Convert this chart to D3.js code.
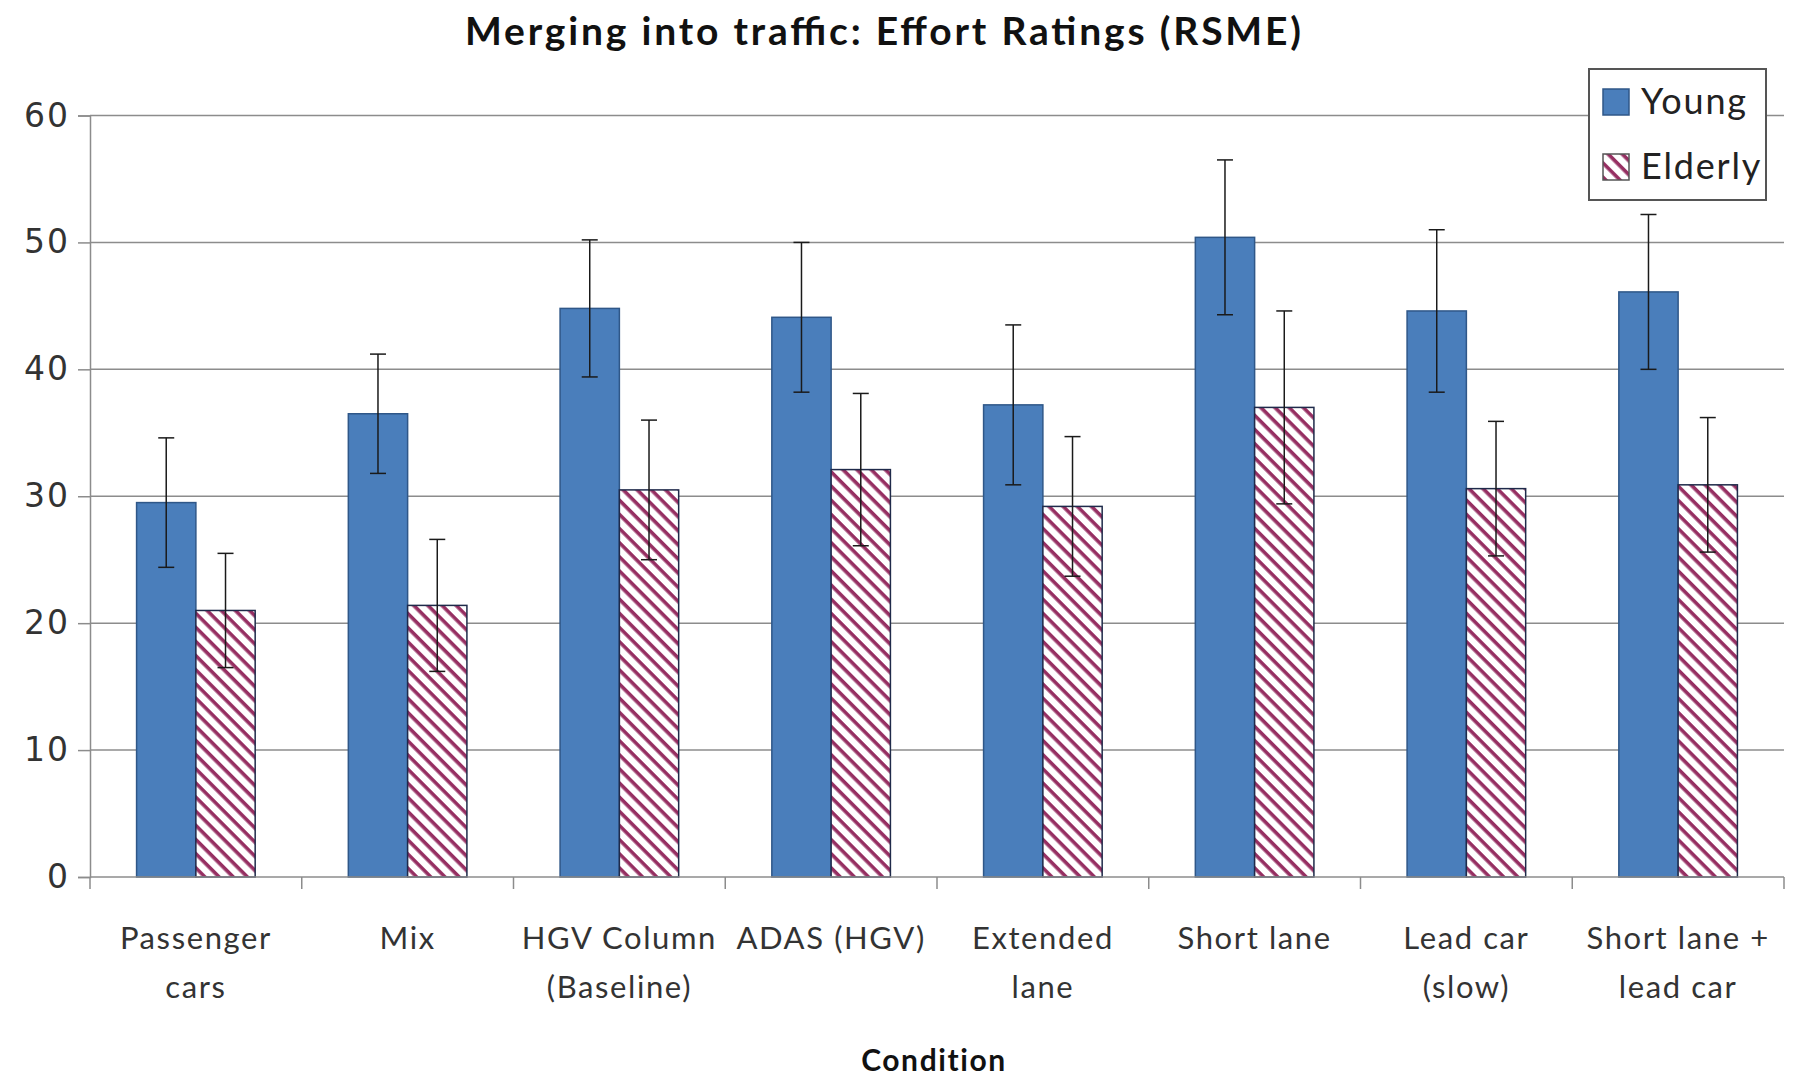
<!DOCTYPE html>
<html>
<head>
<meta charset="utf-8">
<script src="https://cdn.jsdelivr.net/npm/d3@7"></script>
<style>
  html, body { margin: 0; padding: 0; background: #fff; }
  svg { display: block; }
</style>
</head>
<body>
<svg id="chart" width="1793" height="1081"></svg>
<script>
// ---- Data ----
const categories = [
  ["Passenger", "cars"],
  ["Mix"],
  ["HGV Column", "(Baseline)"],
  ["ADAS (HGV)"],
  ["Extended", "lane"],
  ["Short lane"],
  ["Lead car", "(slow)"],
  ["Short lane +", "lead car"]
];
const seriesNames = ["Young", "Elderly"];
const youngMeans   = [29.5, 36.5, 44.8, 44.1, 37.2, 50.4, 44.6, 46.1];
const youngErrors  = [5.1, 4.7, 5.4, 5.9, 6.3, 6.1, 6.4, 6.1];
const elderlyMeans = [21.0, 21.4, 30.5, 32.1, 29.2, 37.0, 30.6, 30.9];
const elderlyErrors= [4.5, 5.2, 5.5, 6.0, 5.5, 7.6, 5.3, 5.3];
const yTicks = [0, 10, 20, 30, 40, 50, 60];
const titleText = "Merging into traffic: Effort Ratings (RSME)";
const xTitleText = "Condition";

// ---- Layout ----
const svg = d3.select("#chart");
const plotLeft = 90, plotRight = 1784, plotTop = 115.5, plotBottom = 877;
const catKeys = categories.map((c, i) => i);

const x0 = d3.scaleBand().domain(catKeys).range([plotLeft, plotRight]).paddingInner(0.44).paddingOuter(0.22);
const x1 = d3.scaleBand().domain(seriesNames).range([0, x0.bandwidth()]);
const y = d3.scaleLinear().domain([0, 60]).range([plotBottom, plotTop]);

const series = [
  { name: "Young", means: youngMeans, errs: youngErrors },
  { name: "Elderly", means: elderlyMeans, errs: elderlyErrors }
];

// pattern
const defs = svg.append("defs");
const pat = defs.append("pattern")
  .attr("id", "hatch").attr("patternUnits", "userSpaceOnUse")
  .attr("width", 10).attr("height", 10)
  .attr("patternTransform", "rotate(45)");
pat.append("rect").attr("width", 10).attr("height", 10).attr("fill", "#fff");
pat.append("rect").attr("x", 0).attr("y", 0).attr("width", 10).attr("height", 3.6).attr("fill", "#962f62");

// title
svg.append("text")
  .attr("x", 883).attr("y", 45)
  .attr("text-anchor", "middle")
  .attr("font-family", "Lato, 'Open Sans', sans-serif")
  .attr("font-weight", "bold")
  .attr("font-size", 39)
  .attr("textLength", 836)
  .attr("lengthAdjust", "spacing")
  .attr("fill", "#111")
  .text(titleText);

// gridlines
svg.append("g").selectAll("line")
  .data(yTicks.filter(d => d > 0))
  .join("line")
  .attr("x1", plotLeft).attr("x2", plotRight)
  .attr("y1", d => y(d)).attr("y2", d => y(d))
  .attr("stroke", "#8c8c8c").attr("stroke-width", 1.5);

// y axis
const yAxis = d3.axisLeft(y).tickValues(yTicks).tickSize(12).tickPadding(10);
const gy = svg.append("g").attr("transform", `translate(${plotLeft},0)`).call(yAxis);
gy.select(".domain").attr("stroke", "#8c8c8c").attr("stroke-width", 1.5);
gy.selectAll(".tick line").attr("stroke", "#8c8c8c").attr("stroke-width", 1.5);
gy.selectAll(".tick text")
  .attr("font-family", "'DejaVu Sans', Verdana, sans-serif")
  .attr("font-size", 33)
  .attr("letter-spacing", 2)
  .attr("dx", 2)
  .attr("fill", "#333");

// bars
const groups = svg.append("g").selectAll("g")
  .data(catKeys).join("g")
  .attr("transform", d => `translate(${x0(d)},0)`);

series.forEach(s => {
  groups.append("rect")
    .attr("x", x1(s.name))
    .attr("y", d => y(s.means[d]))
    .attr("width", x1.bandwidth())
    .attr("height", d => y(0) - y(s.means[d]))
    .attr("fill", s.name === "Young" ? "#4a7ebb" : "url(#hatch)")
    .attr("stroke", s.name === "Young" ? "#2f5788" : "#1f2a4a")
    .attr("stroke-width", 1.5);
});

// error bars
series.forEach(s => {
  const cx = d => x1(s.name) + x1.bandwidth() / 2;
  const eb = groups.append("g").attr("stroke", "#1a1a1a").attr("stroke-width", 1.5);
  eb.append("line")
    .attr("x1", cx).attr("x2", cx)
    .attr("y1", d => y(s.means[d] + s.errs[d]))
    .attr("y2", d => y(s.means[d] - s.errs[d]));
  [1, -1].forEach(sign => {
    eb.append("line")
      .attr("x1", d => cx(d) - 8).attr("x2", d => cx(d) + 8)
      .attr("y1", d => y(s.means[d] + sign * s.errs[d]))
      .attr("y2", d => y(s.means[d] + sign * s.errs[d]));
  });
});

// x axis
const step = x0.step();
const boundaries = d3.range(categories.length + 1).map(i => plotLeft + i * step);
svg.append("line")
  .attr("x1", plotLeft).attr("x2", plotRight).attr("y1", plotBottom).attr("y2", plotBottom)
  .attr("stroke", "#8c8c8c").attr("stroke-width", 1.5);
svg.append("g").selectAll("line").data(boundaries).join("line")
  .attr("x1", d => d).attr("x2", d => d)
  .attr("y1", plotBottom).attr("y2", plotBottom + 12)
  .attr("stroke", "#8c8c8c").attr("stroke-width", 1.5);

// category labels
const lbl = svg.append("g").selectAll("text").data(catKeys).join("text")
  .attr("text-anchor", "middle")
  .attr("font-family", "Lato, 'Open Sans', sans-serif")
  .attr("font-size", 31)
  .attr("letter-spacing", 1.6)
  .attr("fill", "#333")
  .attr("transform", d => `translate(${x0(d) + x0.bandwidth() / 2},0)`);
lbl.selectAll("tspan").data(d => categories[d]).join("tspan")
  .attr("x", 0)
  .attr("y", (d, i) => 949 + i * 49)
  .text(d => d);

// x title
svg.append("text")
  .attr("x", 934).attr("y", 1071)
  .attr("text-anchor", "middle")
  .attr("font-family", "Lato, 'Open Sans', sans-serif")
  .attr("font-weight", "bold")
  .attr("font-size", 30)
  .attr("letter-spacing", 1.6)
  .attr("fill", "#111")
  .text(xTitleText);

// legend
const lg = svg.append("g");
lg.append("rect")
  .attr("x", 1589).attr("y", 69).attr("width", 177).attr("height", 131)
  .attr("fill", "#fff").attr("stroke", "#555").attr("stroke-width", 2);
series.forEach((s, i) => {
  const yy = 89 + i * 65;
  lg.append("rect")
    .attr("x", 1603).attr("y", yy).attr("width", 26).attr("height", 26)
    .attr("fill", s.name === "Young" ? "#4a7ebb" : "url(#hatch)")
    .attr("stroke", s.name === "Young" ? "#2f5788" : "#555")
    .attr("stroke-width", 1.5);
  lg.append("text")
    .attr("x", 1641).attr("y", yy + 25)
    .attr("font-family", "Lato, 'Open Sans', sans-serif")
    .attr("font-size", 36)
    .attr("letter-spacing", 1.8)
    .attr("fill", "#222")
    .text(s.name);
});
</script>
</body>
</html>
